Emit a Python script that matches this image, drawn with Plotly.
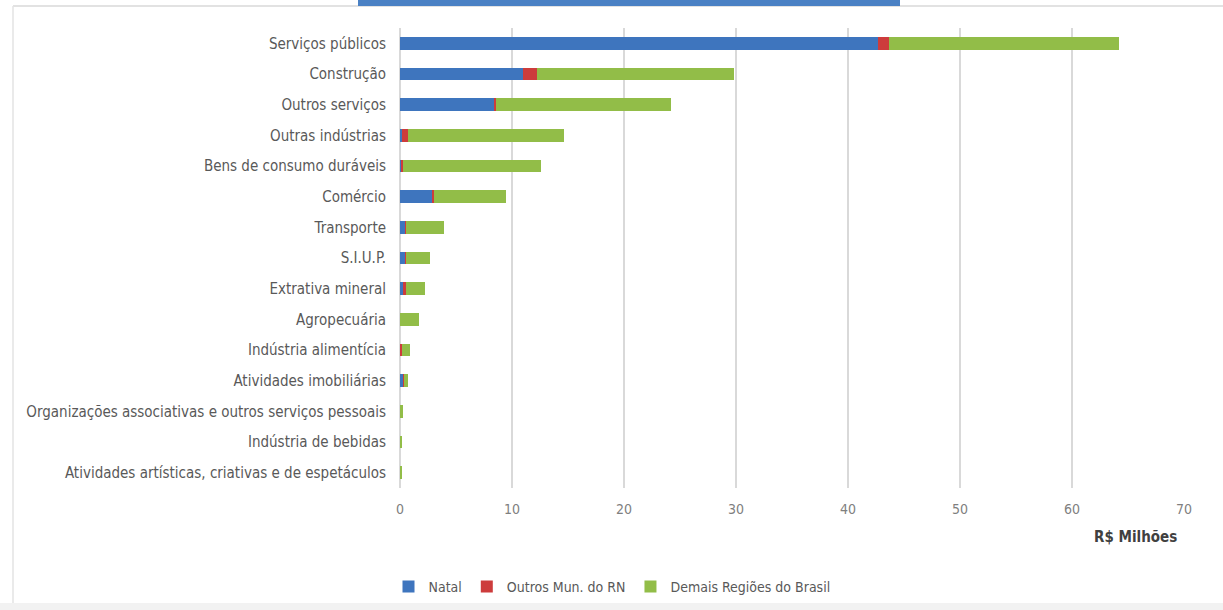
import plotly.graph_objects as go

categories = [
    "Serviços públicos",
    "Construção",
    "Outros serviços",
    "Outras indústrias",
    "Bens de consumo duráveis",
    "Comércio",
    "Transporte",
    "S.I.U.P.",
    "Extrativa mineral",
    "Agropecuária",
    "Indústria alimentícia",
    "Atividades imobiliárias",
    "Organizações associativas e outros serviços pessoais",
    "Indústria de bebidas",
    "Atividades artísticas, criativas e de espetáculos",
]
natal = [42.7, 10.95, 8.4, 0.2, 0.1, 2.83, 0.5, 0.45, 0.25, 0.0, 0.02, 0.3, 0.0, 0.0, 0.0]
outros_rn = [0.95, 1.25, 0.15, 0.55, 0.15, 0.2, 0.05, 0.05, 0.25, 0.02, 0.15, 0.03, 0.02, 0.01, 0.01]
demais = [20.55, 17.6, 15.65, 13.9, 12.35, 6.4, 3.4, 2.2, 1.75, 1.7, 0.72, 0.42, 0.28, 0.1, 0.1]

series_names = ["Natal", "Outros Mun. do RN", "Demais Regiões do Brasil"]
colors = ["#3E75BE", "#CD3C3C", "#92BD48"]

FONT = "Liberation Sans Narrow, DejaVu Sans Condensed, Arial Narrow, sans-serif"

fig = go.Figure()
for name, vals, col in zip(series_names, [natal, outros_rn, demais], colors):
    fig.add_trace(go.Bar(
        y=categories, x=vals, name=name, orientation="h",
        marker=dict(color=col, line=dict(width=0)),
    ))

# layout geometry (pixels)
W, H = 1223, 610
L, R, T, B = 400, 1184, 28, 488
pw, ph = R - L, B - T

def px(x):
    return (x - L) / pw

def py(y):
    return (B - y) / ph

fig.update_layout(
    width=W, height=H,
    barmode="stack",
    bargap=0.58,
    plot_bgcolor="white",
    paper_bgcolor="white",
    margin=dict(l=L, r=W - R, t=T, b=H - B, autoexpand=False),
    font=dict(family=FONT, size=15, color="#595959"),
    showlegend=True,
    legend=dict(
        orientation="h", x=px(612), xanchor="center", y=py(587), yanchor="middle",
        font=dict(family=FONT, size=14, color="#595959"),
        bgcolor="rgba(0,0,0,0)",
        itemwidth=30, tracegroupgap=0, traceorder="normal",
    ),
    xaxis=dict(
        range=[0, 70], dtick=10, tick0=0,
        showgrid=True, gridcolor="#D9D9D9", gridwidth=1.5,
        zeroline=True, zerolinecolor="#D9D9D9", zerolinewidth=1.5,
        showline=False,
        ticks="outside", ticklen=8, tickcolor="rgba(0,0,0,0)",
        tickfont=dict(family=FONT, size=14, color="#7f7f7f"),
        fixedrange=True,
    ),
    yaxis=dict(
        categoryorder="array", categoryarray=categories[::-1],
        showgrid=False, zeroline=False, showline=False,
        ticks="outside", ticklen=10, tickcolor="rgba(0,0,0,0)",
        tickfont=dict(family=FONT, size=15, color="#595959"),
        fixedrange=True,
    ),
    annotations=[
        dict(text="<b>R$ Milhões</b>", xref="paper", yref="paper",
             x=px(1179), y=py(537), xanchor="right", yanchor="middle",
             showarrow=False, font=dict(family=FONT, size=15, color="#404040")),
    ],
    shapes=[
        # bottom gray band
        dict(type="rect", xref="paper", yref="paper",
             x0=px(0), x1=px(1223), y0=py(612), y1=py(603),
             line=dict(width=0), fillcolor="#F2F2F2", layer="below"),
        # frame top line
        dict(type="line", xref="paper", yref="paper",
             x0=px(13), x1=px(1223), y0=py(6), y1=py(6),
             line=dict(color="#D9D9D9", width=1.5), layer="below"),
        # frame left line
        dict(type="line", xref="paper", yref="paper",
             x0=px(13), x1=px(13), y0=py(6), y1=py(603),
             line=dict(color="#E3E3E3", width=1.5), layer="below"),
        # blue header bar
        dict(type="rect", xref="paper", yref="paper",
             x0=px(358), x1=px(900), y0=py(6), y1=py(-2),
             line=dict(width=0), fillcolor="#4A81C4", layer="above"),
    ],
)

fig.write_html(
    "out.html",
    config={"displayModeBar": False},
    post_script="document.body.style.margin='0';document.body.style.overflow='hidden';",
)
